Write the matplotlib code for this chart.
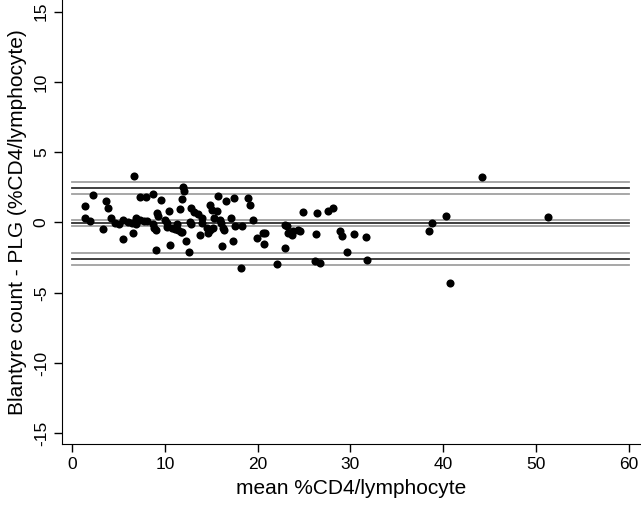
import matplotlib
matplotlib.use("Agg")
import matplotlib.pyplot as plt
import numpy as np

plt.rcParams['font.family'] = ['Liberation Sans', 'DejaVu Sans']
plt.rcParams['axes.unicode_minus'] = False

mean_cd4 = [1.38, 1.38, 1.92, 2.28, 3.35, 3.71, 3.89, 4.25, 4.61, 5.06, 5.51, 6.05, 6.50, 6.94, 5.51, 6.59, 6.63,
            7.30, 8.02, 8.74, 9.55, 11.88, 11.97, 12.06, 10.45, 11.61, 12.78, 13.14, 13.59, 9.19, 9.28,
            7.30, 7.75, 8.11, 6.94, 8.74, 8.83, 9.10, 10.00, 10.18, 10.27, 10.72, 11.08, 11.43, 11.79, 11.26,
            11.88, 12.69, 12.87, 13.95, 13.77, 12.33, 10.54, 9.01, 12.60,
            15.75, 16.55, 17.45, 18.98, 19.16, 14.85, 15.03, 15.57, 13.95, 15.30, 15.92, 17.09, 19.52,
            14.49, 14.85, 15.21, 16.10, 16.28, 16.37, 17.54, 18.26, 14.67, 16.19, 17.36, 19.88, 20.59, 20.68, 18.17,
            24.90, 26.43, 27.60, 28.14, 20.77, 22.93, 23.11, 23.29, 23.65, 23.83, 24.37, 24.55, 26.25, 28.86, 29.04,
            22.93, 22.03, 26.16, 26.70, 30.38, 31.64, 29.66, 31.82,
            38.46, 38.73, 40.26, 44.21, 51.31, 40.71]
difference = [1.2, 0.33, 0.14, 1.95, -0.45, 1.5, 1.03, 0.33, -0.05, -0.14, 0.2, 0.07, -0.05, 0.32, -1.21, -0.72, 3.3,
              1.8, 1.83, 2.05, 1.63, 1.64, 2.5, 2.27, 0.85, 0.95, 1.04, 0.77, 0.57, 0.66, 0.47,
              0.21, 0.14, 0.09, -0.14, -0.14, -0.38, -0.55, 0.16, -0.02, -0.3, -0.38, -0.45, -0.55, -0.65, -0.14,
              -0.7, 0.05, -0.09, -0.02, -0.9, -1.35, -1.63, -1.93, -2.11,
              1.85, 1.51, 1.75, 1.75, 1.28, 1.28, 0.92, 0.8, 0.33, 0.33, 0.21, 0.33, 0.21,
              -0.38, -0.5, -0.38, -0.02, -0.38, -0.52, -0.26, -0.26, -0.73, -1.68, -1.33, -1.09, -0.73, -1.51, -3.26,
              0.76, 0.66, 0.85, 1.04, -0.73, -0.19, -0.28, -0.73, -0.9, -0.62, -0.52, -0.57, -0.85, -0.62, -0.99,
              -1.8, -2.98, -2.75, -2.91, -0.8, -1.01, -2.11, -2.70,
              -0.62, -0.07, 0.45, 3.24, 0.38, -4.33]

mean_diff = -0.05
upper_loa = 2.48
lower_loa = -2.60
ci_mean = 0.22
ci_loa = 0.42

fig = plt.figure(figsize=(6.41, 5.05), dpi=100)
ax = fig.add_axes([62/641, 1 - 444/505, 1 - 62/641, 444/505])

x0, x1 = 0, 60
for c in [mean_diff, upper_loa, lower_loa]:
    hw = ci_mean if c == mean_diff else ci_loa
    ax.plot([x0, x1], [c + hw, c + hw], color='#a0a0a0', lw=1.3, zorder=1)
    ax.plot([x0, x1], [c - hw, c - hw], color='#a0a0a0', lw=1.3, zorder=1)
    ax.plot([x0, x1], [c, c], color='#303030', lw=1.3, zorder=1)

ax.scatter(mean_cd4, difference, s=34, color='black', zorder=3, linewidths=0)

ax.set_xlim(-1.08, 61.3)
ax.set_ylim(-15.76, 15.83)
ax.set_xticks(range(0, 61, 10))
ax.set_yticks(range(-15, 16, 5))
for lab in ax.get_yticklabels():
    lab.set_rotation(90)
    lab.set_va('center')
ax.tick_params(axis='both', direction='out', length=5.5, width=1, labelsize=12.5, colors='black', pad=4)
ax.spines['top'].set_visible(False)
ax.spines['right'].set_visible(False)
ax.set_xlabel('mean %CD4/lymphocyte', fontsize=15, labelpad=5)
ax.set_ylabel('Blantyre count - PLG (%CD4/lymphocyte)', fontsize=15, labelpad=5)

fig.savefig('out.png', dpi=100)
